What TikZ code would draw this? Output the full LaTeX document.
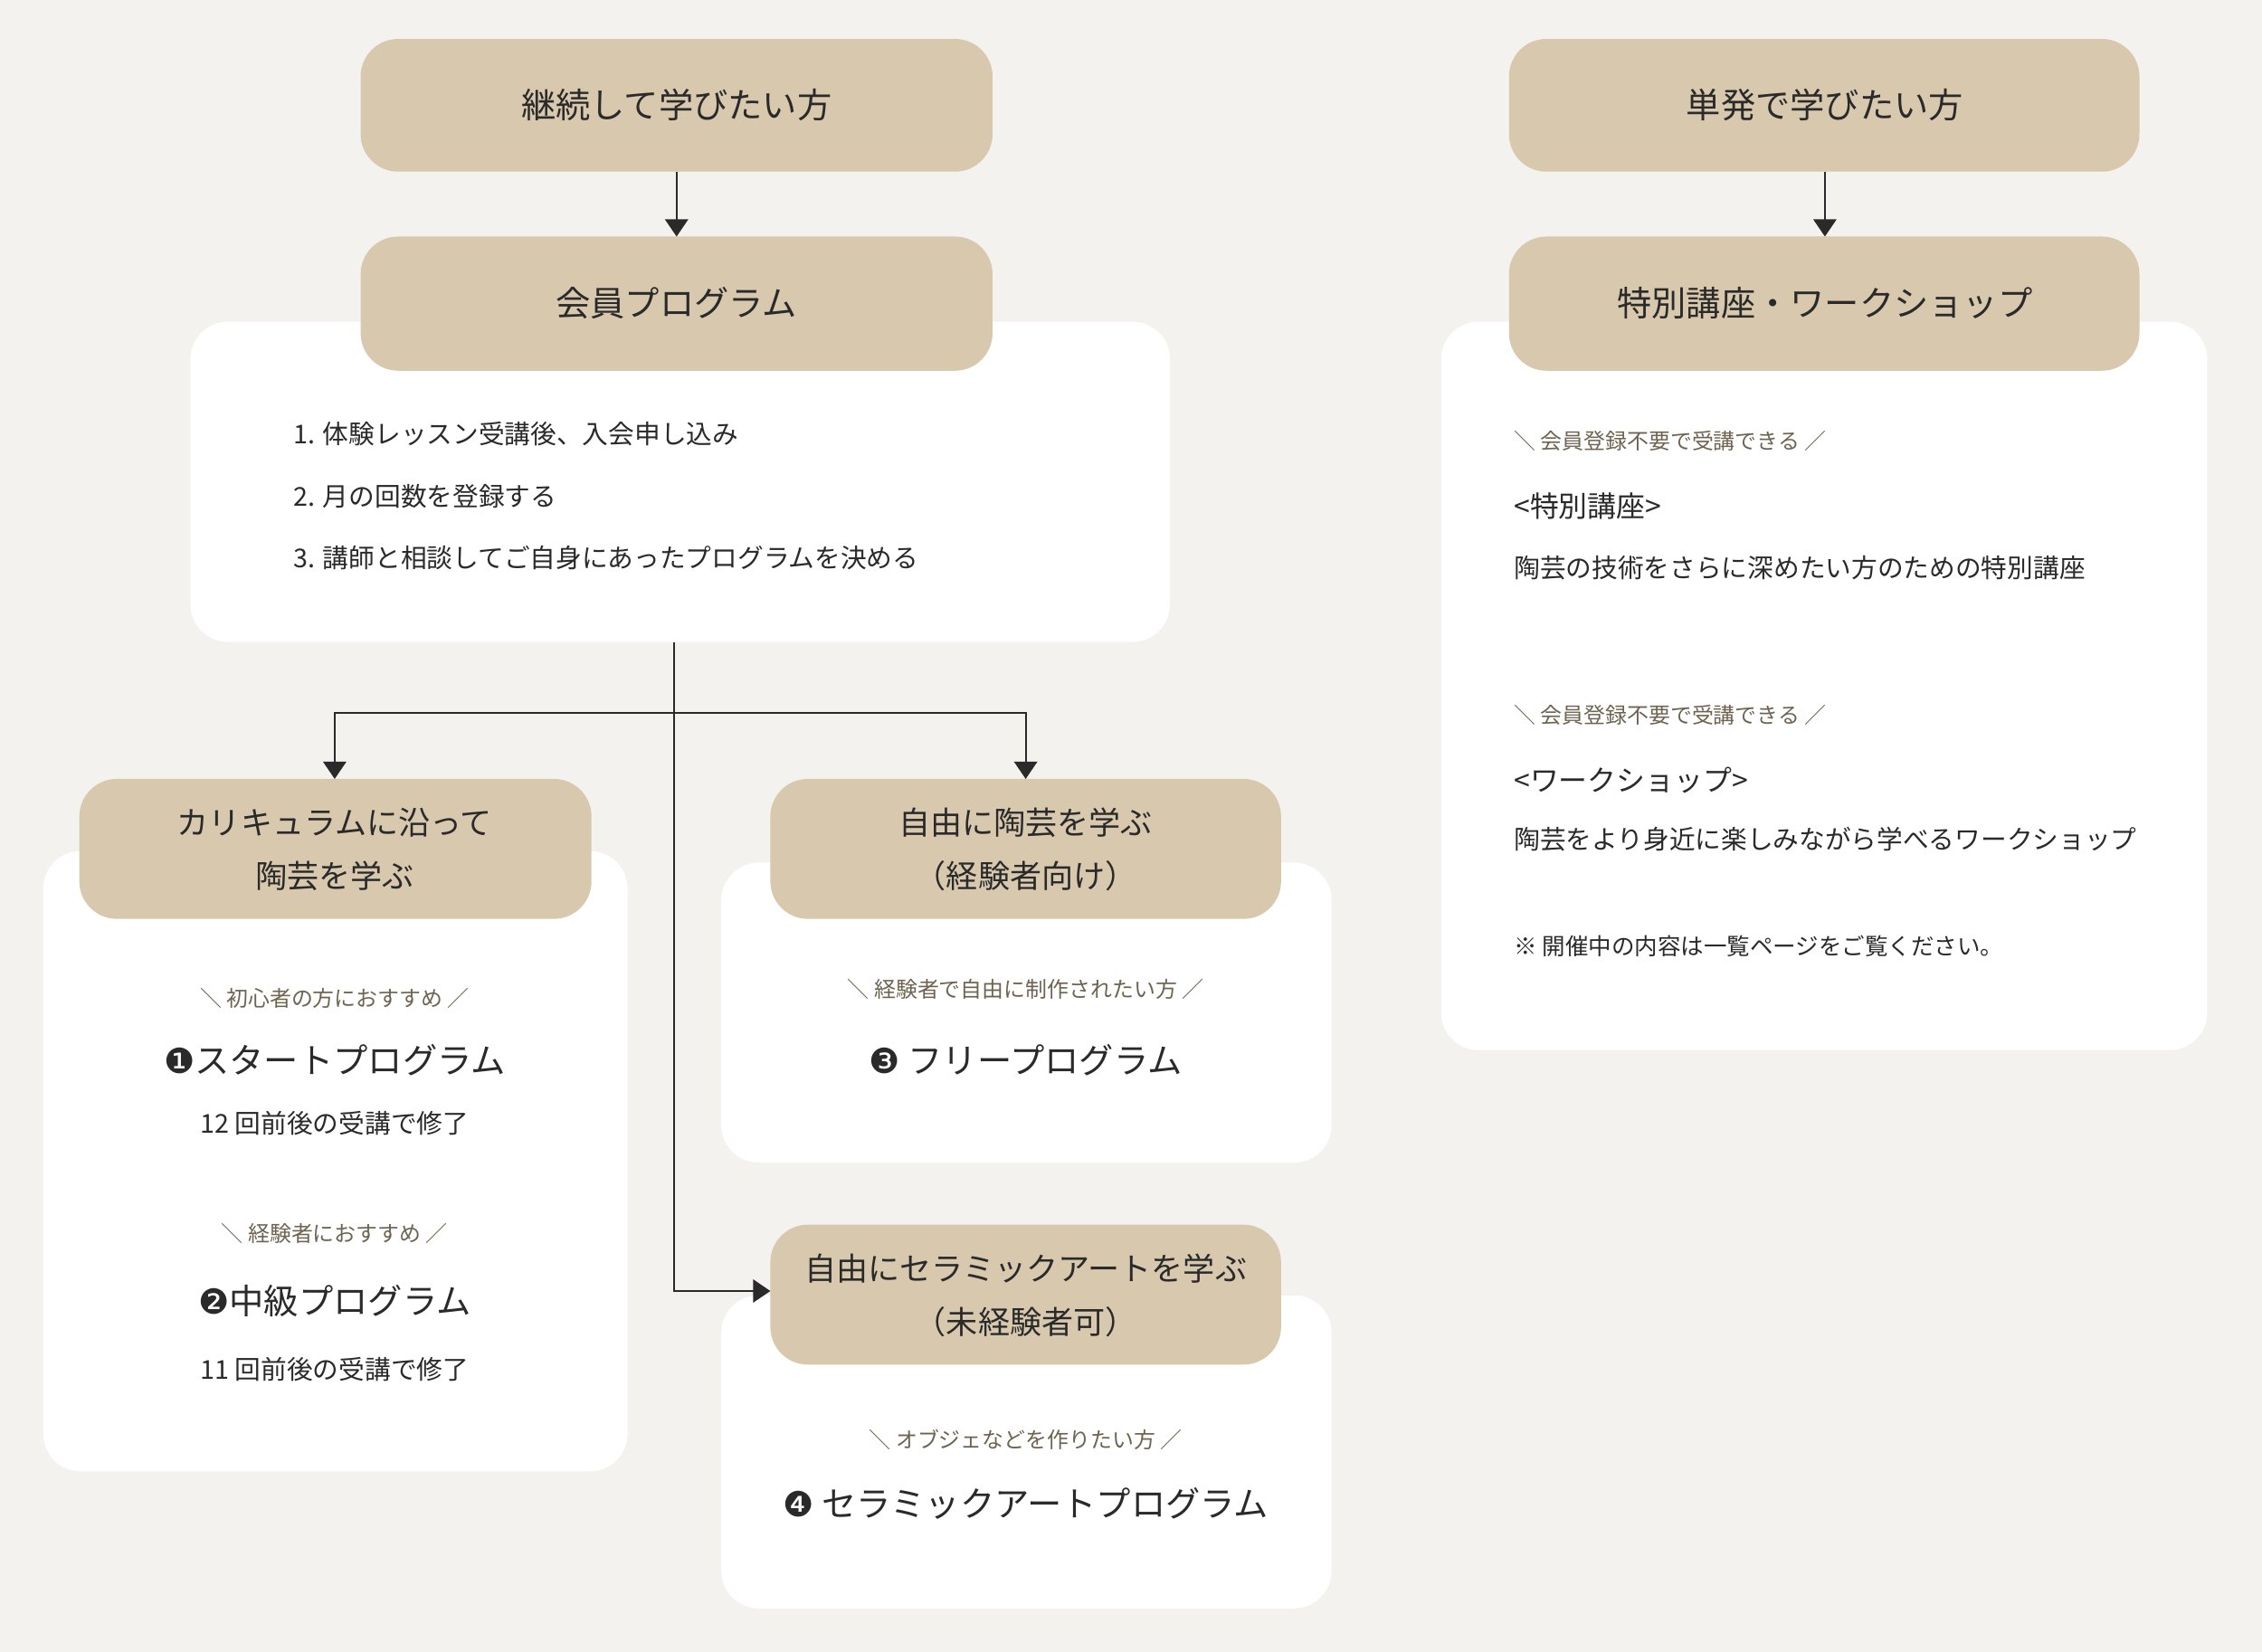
\documentclass[tikz,border=0pt]{standalone}
\usepackage{fontspec}
\setmainfont{Noto Sans CJK JP}
\newfontfamily\djfont{DejaVu Sans}
\usetikzlibrary{arrows.meta}
\definecolor{bg}{HTML}{F3F2EF}
\definecolor{tan}{HTML}{D8C8AE}
\definecolor{sub}{HTML}{6E6350}
\definecolor{ink}{HTML}{2A2A2A}
\tikzset{
 x=1pt,y=-1pt,
 head/.style={fill=tan,rounded corners=26pt,text=ink,font=\fontsize{24}{34}\selectfont,align=center},
 panel/.style={fill=white,rounded corners=26pt},
 con/.style={draw=ink,line width=1.3pt,-{Triangle[width=16pt,length=12pt]}},
 note/.style={text=sub,font=\fontsize{15}{18}\selectfont},
 big/.style={text=ink,font=\fontsize{24}{28}\selectfont},
 txt/.style={text=ink,font=\fontsize{18}{22}\selectfont,anchor=west},
}
\begin{document}
\begin{tikzpicture}
\fill[bg] (0,0) rectangle (1568,1145);
\useasboundingbox (0,0) rectangle (1568,1145);
% panels
\fill[panel] (132,223) rectangle (811,445);
\fill[panel] (30,590) rectangle (435,1020);
\fill[panel] (500,598) rectangle (923,806);
\fill[panel] (500,898) rectangle (923,1115);
\fill[panel] (999,223) rectangle (1530,728);
% heads
\path[head] (250,27) rectangle (688,119);
\node[head,fill=none] (a) at (469,73) {継続して学びたい方};
\path[head] (250,164) rectangle (688,257);
\node[head,fill=none] (b) at (469,210) {会員プログラム};
\path[head] (1046,27) rectangle (1483,119);
\node[head,fill=none] (c) at (1265,73) {単発で学びたい方};
\path[head] (1046,164) rectangle (1483,257);
\node[head,fill=none] (d) at (1265,210) {特別講座・ワークショップ};
\path[head] (55,540) rectangle (410,637);
\node[head,fill=none,font=\fontsize{22}{37}\selectfont] (e) at (232,589) {カリキュラムに沿って\\陶芸を学ぶ};
\path[head] (534,540) rectangle (888,637);
\node[head,fill=none,font=\fontsize{22}{37}\selectfont] (f) at (711,589) {自由に陶芸を学ぶ\\（経験者向け）};
\path[head] (534,849) rectangle (888,946);
\node[head,fill=none,font=\fontsize{22}{37}\selectfont] (g) at (711,898) {自由にセラミックアートを学ぶ\\（未経験者可）};
\coordinate (at) at (469,119); \coordinate (ab) at (469,164);
\draw[con] (at) -- (ab);
\coordinate (ct) at (1265,119); \coordinate (cb) at (1265,164);
\draw[con] (ct) -- (cb);
\coordinate (p0) at (467,445); \coordinate (pj) at (467,494);
\coordinate (ee) at (232,540); \coordinate (fe) at (711,540); \coordinate (ge) at (534,895);
\draw[con] (p0) -- (pj) -| (ee);
\draw[con] (pj) -| (fe);
\draw[con] (pj) |- (ge);
% member steps
\node[txt] (s1) at (200,301) {1. 体験レッスン受講後、入会申し込み};
\node[txt] (s2) at (200,344) {2. 月の回数を登録する};
\node[txt] (s3) at (200,387) {3. 講師と相談してご自身にあったプログラムを決める};
% left panel
\node[note] (n1) at (232,692) {＼ 初心者の方におすすめ ／};
\node[big] (p1) at (232,735) {{\djfont ❶}スタートプログラム};
\node[txt,anchor=center] (t1) at (232,779) {12 回前後の受講で修了};
\node[note] (n2) at (232,855) {＼ 経験者におすすめ ／};
\node[big] (p2) at (232,902) {{\djfont ❷}中級プログラム};
\node[txt,anchor=center] (t2) at (232,949) {11 回前後の受講で修了};
\node[note] (n3) at (711,686) {＼ 経験者で自由に制作されたい方 ／};
\node[big] (p3) at (711,735) {{\djfont ❸} フリープログラム};
\node[note] (n4) at (711,998) {＼ オブジェなどを作りたい方 ／};
\node[big] (p4) at (711,1042) {{\djfont ❹} セラミックアートプログラム};
% right panel
\node[note,anchor=west] (r1) at (1046,306) {＼ 会員登録不要で受講できる ／};
\node[txt,font=\fontsize{20}{24}\selectfont] (r2) at (1046,351) {<特別講座>};
\node[txt] (r3) at (1046,394) {陶芸の技術をさらに深めたい方のための特別講座};
\node[note,anchor=west] (r4) at (1046,496) {＼ 会員登録不要で受講できる ／};
\node[txt,font=\fontsize{20}{24}\selectfont] (r5) at (1046,541) {<ワークショップ>};
\node[txt] (r6) at (1046,582) {陶芸をより身近に楽しみながら学べるワークショップ};
\node[txt,font=\fontsize{16}{20}\selectfont] (r7) at (1046,656) {※ 開催中の内容は一覧ページをご覧ください。};
\end{tikzpicture}
\end{document}
